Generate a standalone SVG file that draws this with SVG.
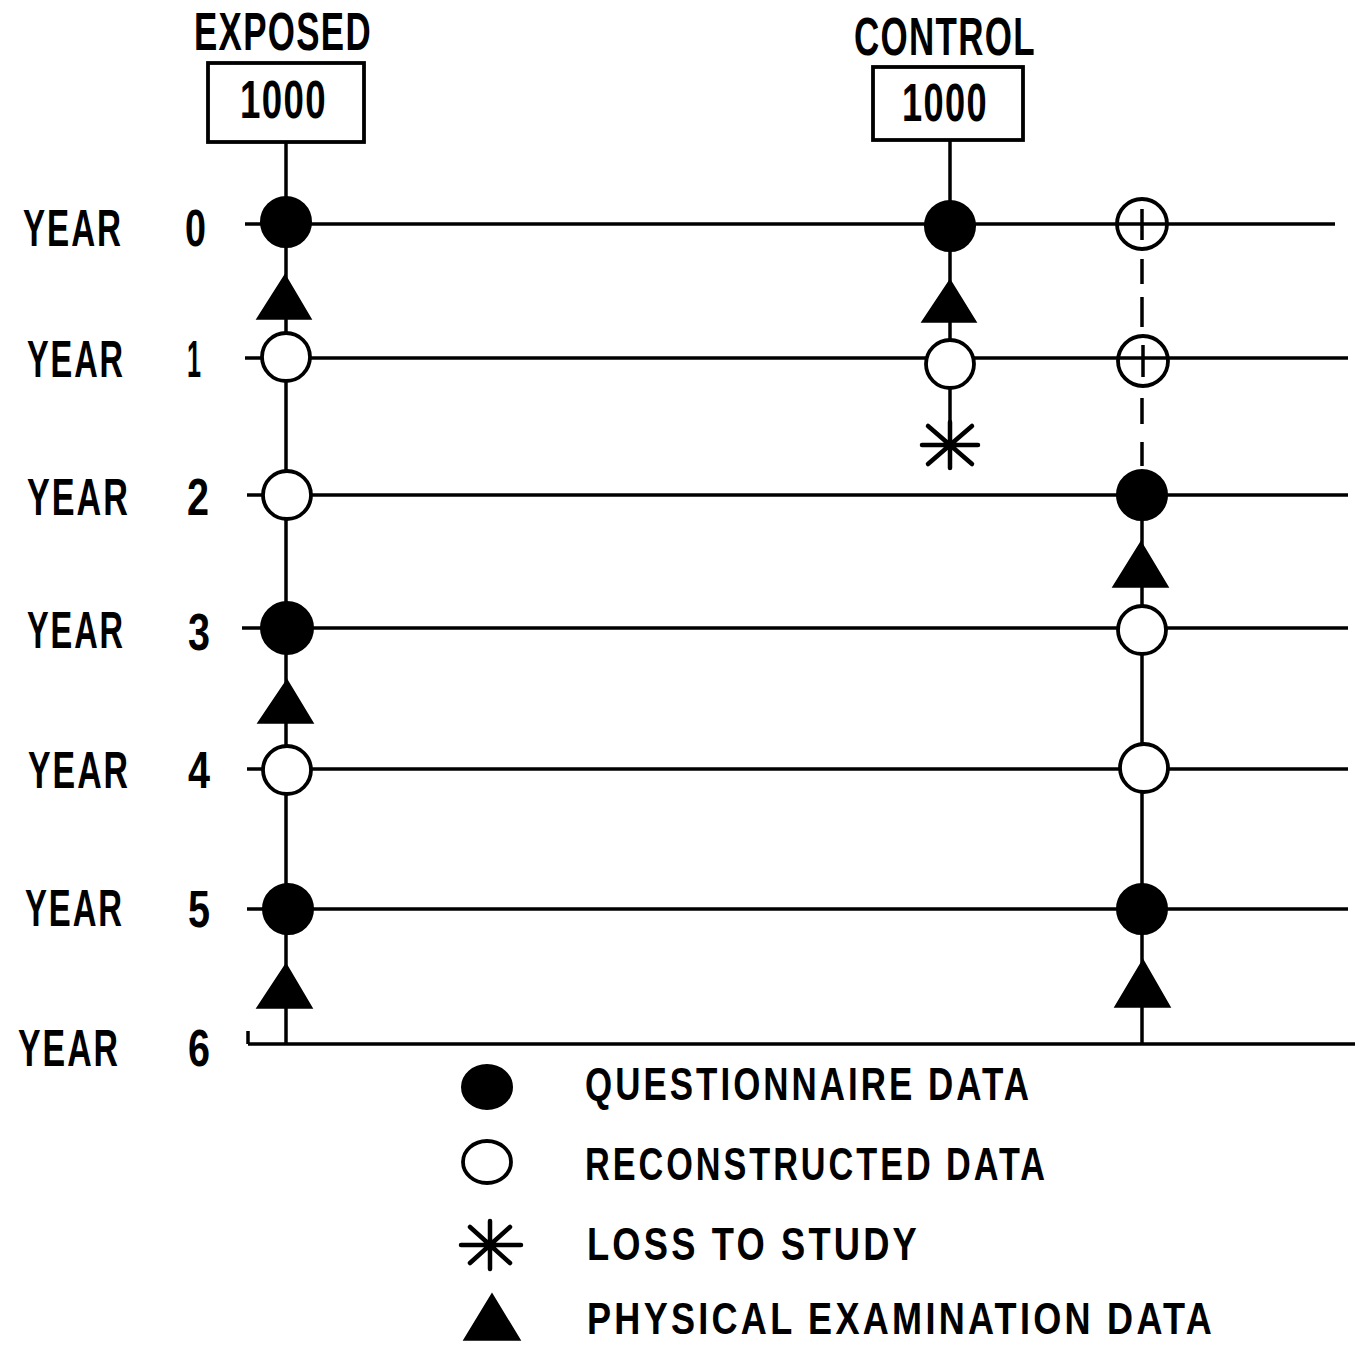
<svg xmlns="http://www.w3.org/2000/svg" width="1355" height="1348" viewBox="0 0 1355 1348">
<style>
  .t{font-family:"Liberation Sans",Arial,sans-serif;font-weight:bold;fill:#000}
  .yr{font-size:51px;letter-spacing:3px}
  .dg{font-size:51px}
  .hd{font-size:53px;letter-spacing:2px}
  .lg{font-size:46px;letter-spacing:4px}
  .lgp{font-size:44px;letter-spacing:4px}
  .ln{stroke:#000;stroke-width:3.5;fill:none;stroke-linecap:butt}
  .fc{fill:#000;stroke:#000;stroke-width:2}
  .oc{fill:#fff;stroke:#000;stroke-width:3.8}
  .tri{fill:#000;stroke:#000;stroke-width:1.5;stroke-linejoin:miter}
  .st{stroke:#000;stroke-width:4.5;fill:none;stroke-linecap:round}
  .box{fill:#fff;stroke:#000;stroke-width:3.8}
</style>
<rect width="1355" height="1348" fill="#fff"/>

<!-- connectors -->
<g id="connectors">
  <path class="ln" d="M245 224 H1335"/>
  <path class="ln" d="M245 358 H1348"/>
  <path class="ln" d="M247 495 H1348"/>
  <path class="ln" d="M242 628 H1348"/>
  <path class="ln" d="M247 769 H1348"/>
  <path class="ln" d="M247 909 H1348"/>
  <path class="ln" d="M248 1044 H1355 M248 1031 V1044"/>
  <path class="ln" d="M286 142 V1044"/>
  <path class="ln" d="M950 140 V468"/>
  <path class="ln" d="M1142 259 V284 M1142 297 V327 M1142 398 V424 M1142 442 V466"/>
  <path class="ln" d="M1142 495 V1044"/>
</g>

<!-- headers -->
<g id="exposed">
  <text class="t hd" x="194" y="50" textLength="178" lengthAdjust="spacingAndGlyphs">EXPOSED</text>
  <rect class="box" x="208" y="63" width="156" height="79"/>
  <text class="t hd" x="240" y="118" textLength="87" lengthAdjust="spacingAndGlyphs">1000</text>
</g>
<g id="control">
  <text class="t hd" x="854" y="55" textLength="182" lengthAdjust="spacingAndGlyphs">CONTROL</text>
  <rect class="box" x="873" y="67" width="150" height="73"/>
  <text class="t hd" x="902" y="121" textLength="86" lengthAdjust="spacingAndGlyphs">1000</text>
</g>

<!-- year labels -->
<g id="year-labels">
  <g id="year0"><text class="t yr" x="23" y="246" textLength="100" lengthAdjust="spacingAndGlyphs">YEAR</text><text class="t dg" x="185" y="246" textLength="21" lengthAdjust="spacingAndGlyphs">0</text></g>
  <g id="year1"><text class="t yr" x="27" y="377" textLength="98" lengthAdjust="spacingAndGlyphs">YEAR</text><text class="t dg" x="187" y="377" textLength="14" lengthAdjust="spacingAndGlyphs">1</text></g>
  <g id="year2"><text class="t yr" x="27" y="515" textLength="103" lengthAdjust="spacingAndGlyphs">YEAR</text><text class="t dg" x="187" y="515" textLength="22" lengthAdjust="spacingAndGlyphs">2</text></g>
  <g id="year3"><text class="t yr" x="27" y="648" textLength="98" lengthAdjust="spacingAndGlyphs">YEAR</text><text class="t dg" x="188" y="650" textLength="22" lengthAdjust="spacingAndGlyphs">3</text></g>
  <g id="year4"><text class="t yr" x="28" y="788" textLength="102" lengthAdjust="spacingAndGlyphs">YEAR</text><text class="t dg" x="188" y="788" textLength="22" lengthAdjust="spacingAndGlyphs">4</text></g>
  <g id="year5"><text class="t yr" x="25" y="926" textLength="99" lengthAdjust="spacingAndGlyphs">YEAR</text><text class="t dg" x="188" y="927" textLength="22" lengthAdjust="spacingAndGlyphs">5</text></g>
  <g id="year6"><text class="t yr" x="18" y="1066" textLength="102" lengthAdjust="spacingAndGlyphs">YEAR</text><text class="t dg" x="188" y="1066" textLength="22" lengthAdjust="spacingAndGlyphs">6</text></g>
</g>

<!-- exposed column markers -->
<g id="exp-y0-q"><circle class="fc" cx="286" cy="222" r="25"/></g>
<g id="exp-pe1"><polygon class="tri" points="285,275 257,319 311,319"/></g>
<g id="exp-y1-r"><circle class="oc" cx="286" cy="357" r="24"/></g>
<g id="exp-y2-r"><circle class="oc" cx="287" cy="495" r="24"/></g>
<g id="exp-y3-q"><circle class="fc" cx="287" cy="628" r="26"/></g>
<g id="exp-pe3"><polygon class="tri" points="287,680 258,723 313,723"/></g>
<g id="exp-y4-r"><circle class="oc" cx="287" cy="770" r="24"/></g>
<g id="exp-y5-q"><circle class="fc" cx="288" cy="909" r="25"/></g>
<g id="exp-pe5"><polygon class="tri" points="286,964 257,1008 312,1008"/></g>

<!-- control column markers -->
<g id="ctl-y0-q"><circle class="fc" cx="950" cy="226" r="25"/></g>
<g id="ctl-pe0"><polygon class="tri" points="950,280 922,322 976,322"/></g>
<g id="ctl-y1-r"><circle class="oc" cx="950" cy="364" r="24"/></g>
<g id="ctl-loss"><path class="st" d="M922 445 H978 M950 422 V468 M928 426 L972 464 M928 464 L972 426"/></g>

<!-- second control column markers -->
<g id="ctl2-y0"><circle class="oc" cx="1142" cy="224" r="25"/><path class="ln" d="M1117 224 H1167 M1142 209 V240"/></g>
<g id="ctl2-y1"><circle class="oc" cx="1143" cy="361" r="25"/><path class="ln" d="M1118 358 H1168 M1143 345 V377"/></g>
<g id="ctl2-y2-q"><circle class="fc" cx="1142" cy="495" r="25"/></g>
<g id="ctl2-pe2"><polygon class="tri" points="1141,542 1113,587 1168,587"/></g>
<g id="ctl2-y3-r"><circle class="oc" cx="1142" cy="630" r="24"/></g>
<g id="ctl2-y4-r"><circle class="oc" cx="1144" cy="768" r="24"/></g>
<g id="ctl2-y5-q"><circle class="fc" cx="1142" cy="909" r="25"/></g>
<g id="ctl2-pe5"><polygon class="tri" points="1143,960 1115,1007 1170,1007"/></g>

<!-- legend -->
<g id="legend">
  <g id="leg-q"><ellipse class="fc" cx="487" cy="1087" rx="25" ry="22"/><text class="t lg" x="585" y="1100" textLength="447" lengthAdjust="spacingAndGlyphs">QUESTIONNAIRE DATA</text></g>
  <g id="leg-r"><ellipse class="oc" cx="487" cy="1162" rx="24" ry="21"/><text class="t lg" x="585" y="1180" textLength="463" lengthAdjust="spacingAndGlyphs">RECONSTRUCTED DATA</text></g>
  <g id="leg-l"><path class="st" d="M461 1245 H521 M490 1221 V1269 M470 1227 L510 1263 M470 1263 L510 1227"/><text class="t lg" x="587" y="1260" textLength="333" lengthAdjust="spacingAndGlyphs">LOSS TO STUDY</text></g>
  <g id="leg-p"><polygon class="tri" points="492,1294 464,1340 520,1340"/><text class="t lgp" x="587" y="1334" textLength="628" lengthAdjust="spacingAndGlyphs">PHYSICAL EXAMINATION DATA</text></g>
</g>
</svg>
